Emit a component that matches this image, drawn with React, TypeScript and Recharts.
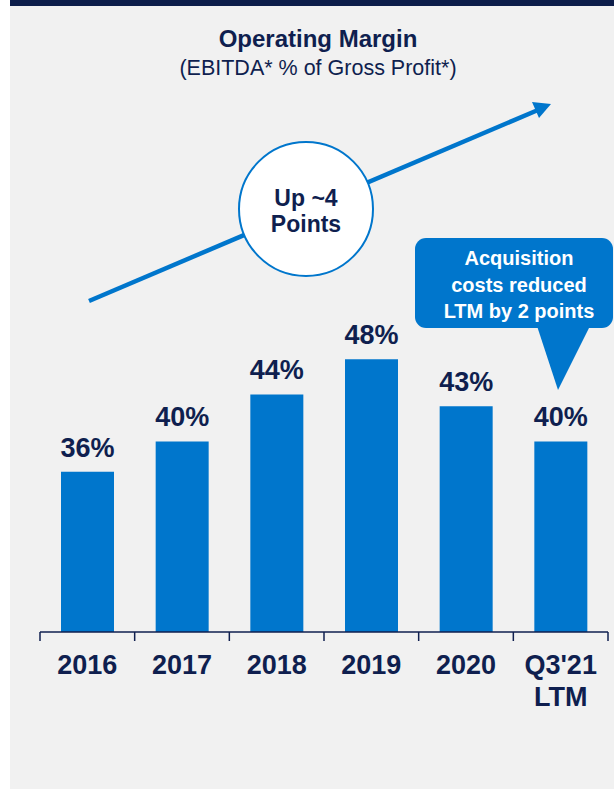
import { BarChart, Bar, XAxis, YAxis, LabelList } from 'recharts';

const years = ['2016', '2017', '2018', '2019', '2020', "Q3'21\nLTM"];
const margins = [36.4, 39.5, 44.3, 47.9, 43.1, 39.5];
const marginLabels = ['36%', '40%', '44%', '48%', '43%', '40%'];

const navy = '#0f1f4f';
const blue = '#0076cc';
const font = '"Liberation Sans", Arial, sans-serif';

const data = years.map((year, i) => ({ year, margin: margins[i], label: marginLabels[i] }));

function YearTick(props: any) {
  const { x, y, payload, index } = props;
  const half = payload?.offset ?? 47.3;
  const lines = String(payload.value).split('\n');
  return (
    <g>
      <line x1={x - half} y1={y - 8} x2={x - half} y2={y + 1} stroke={navy} strokeWidth={1.5} />
      {index === years.length - 1 && (
        <line x1={x + half} y1={y - 8} x2={x + half} y2={y + 1} stroke={navy} strokeWidth={1.5} />
      )}
      <text x={x} y={y + 34} textAnchor="middle" fill={navy} fontFamily={font} fontWeight="bold" fontSize={27}>
        {lines.map((line, i) => (
          <tspan key={i} x={x} dy={i === 0 ? 0 : 32}>
            {line}
          </tspan>
        ))}
      </text>
    </g>
  );
}

export default function App() {
  return (
    <div style={{ position: 'absolute', left: 0, top: 0, width: 614, height: 790, background: '#ffffff' }}>
      <svg width={614} height={790} style={{ position: 'absolute', left: 0, top: 0 }}>
        <rect x={10} y={0} width={604} height={789} fill="#f1f1f1" />
        <rect x={10} y={0} width={604} height={6} fill="#0c1d4a" />
        <text x={318} y={47} textAnchor="middle" fill={navy} fontFamily={font} fontWeight="bold" fontSize={24}>
          Operating Margin
        </text>
        <text x={318} y={75} textAnchor="middle" fill={navy} fontFamily={font} fontSize={21.5}>
          (EBITDA* % of Gross Profit*)
        </text>
      </svg>

      <div style={{ position: 'absolute', left: 0, top: 0 }}>
        <BarChart
          width={614}
          height={790}
          data={data}
          margin={{ top: 241, right: 6, bottom: 0, left: 40 }}
        >
          <YAxis hide domain={[20, 60]} />
          <XAxis
            dataKey="year"
            axisLine={{ stroke: navy, strokeWidth: 1.5 }}
            tickLine={false}
            tick={<YearTick />}
            interval={0}
            height={158}
          />
          <Bar dataKey="margin" fill={blue} barSize={53} isAnimationActive={false}>
            <LabelList
              dataKey="label"
              position="top"
              offset={15}
              fill={navy}
              fontFamily={font}
              fontWeight="bold"
              fontSize={27}
            />
          </Bar>
        </BarChart>
      </div>

      <svg width={614} height={790} style={{ position: 'absolute', left: 0, top: 0, pointerEvents: 'none' }}>
        <line x1={89} y1={301} x2={538} y2={110} stroke={blue} strokeWidth={4.5} />
        <polygon points="551,104 532,102 539,118" fill={blue} />
        <circle cx={306} cy={209} r={67} fill="#ffffff" stroke={blue} strokeWidth={2} />
        <text x={306} y={206} textAnchor="middle" fill={navy} fontFamily={font} fontWeight="bold" fontSize={23}>
          Up ~4
        </text>
        <text x={306} y={232} textAnchor="middle" fill={navy} fontFamily={font} fontWeight="bold" fontSize={23}>
          Points
        </text>
        <rect x={415} y={238} width={198} height={90} rx={11} fill={blue} />
        <polygon points="537,326 590,326 558,390" fill={blue} />
        <text x={519} y={265} textAnchor="middle" fill="#ffffff" fontFamily={font} fontWeight="bold" fontSize={20}>
          Acquisition
        </text>
        <text x={519} y={292} textAnchor="middle" fill="#ffffff" fontFamily={font} fontWeight="bold" fontSize={20}>
          costs reduced
        </text>
        <text x={519} y={318} textAnchor="middle" fill="#ffffff" fontFamily={font} fontWeight="bold" fontSize={20}>
          LTM by 2 points
        </text>
      </svg>
    </div>
  );
}
